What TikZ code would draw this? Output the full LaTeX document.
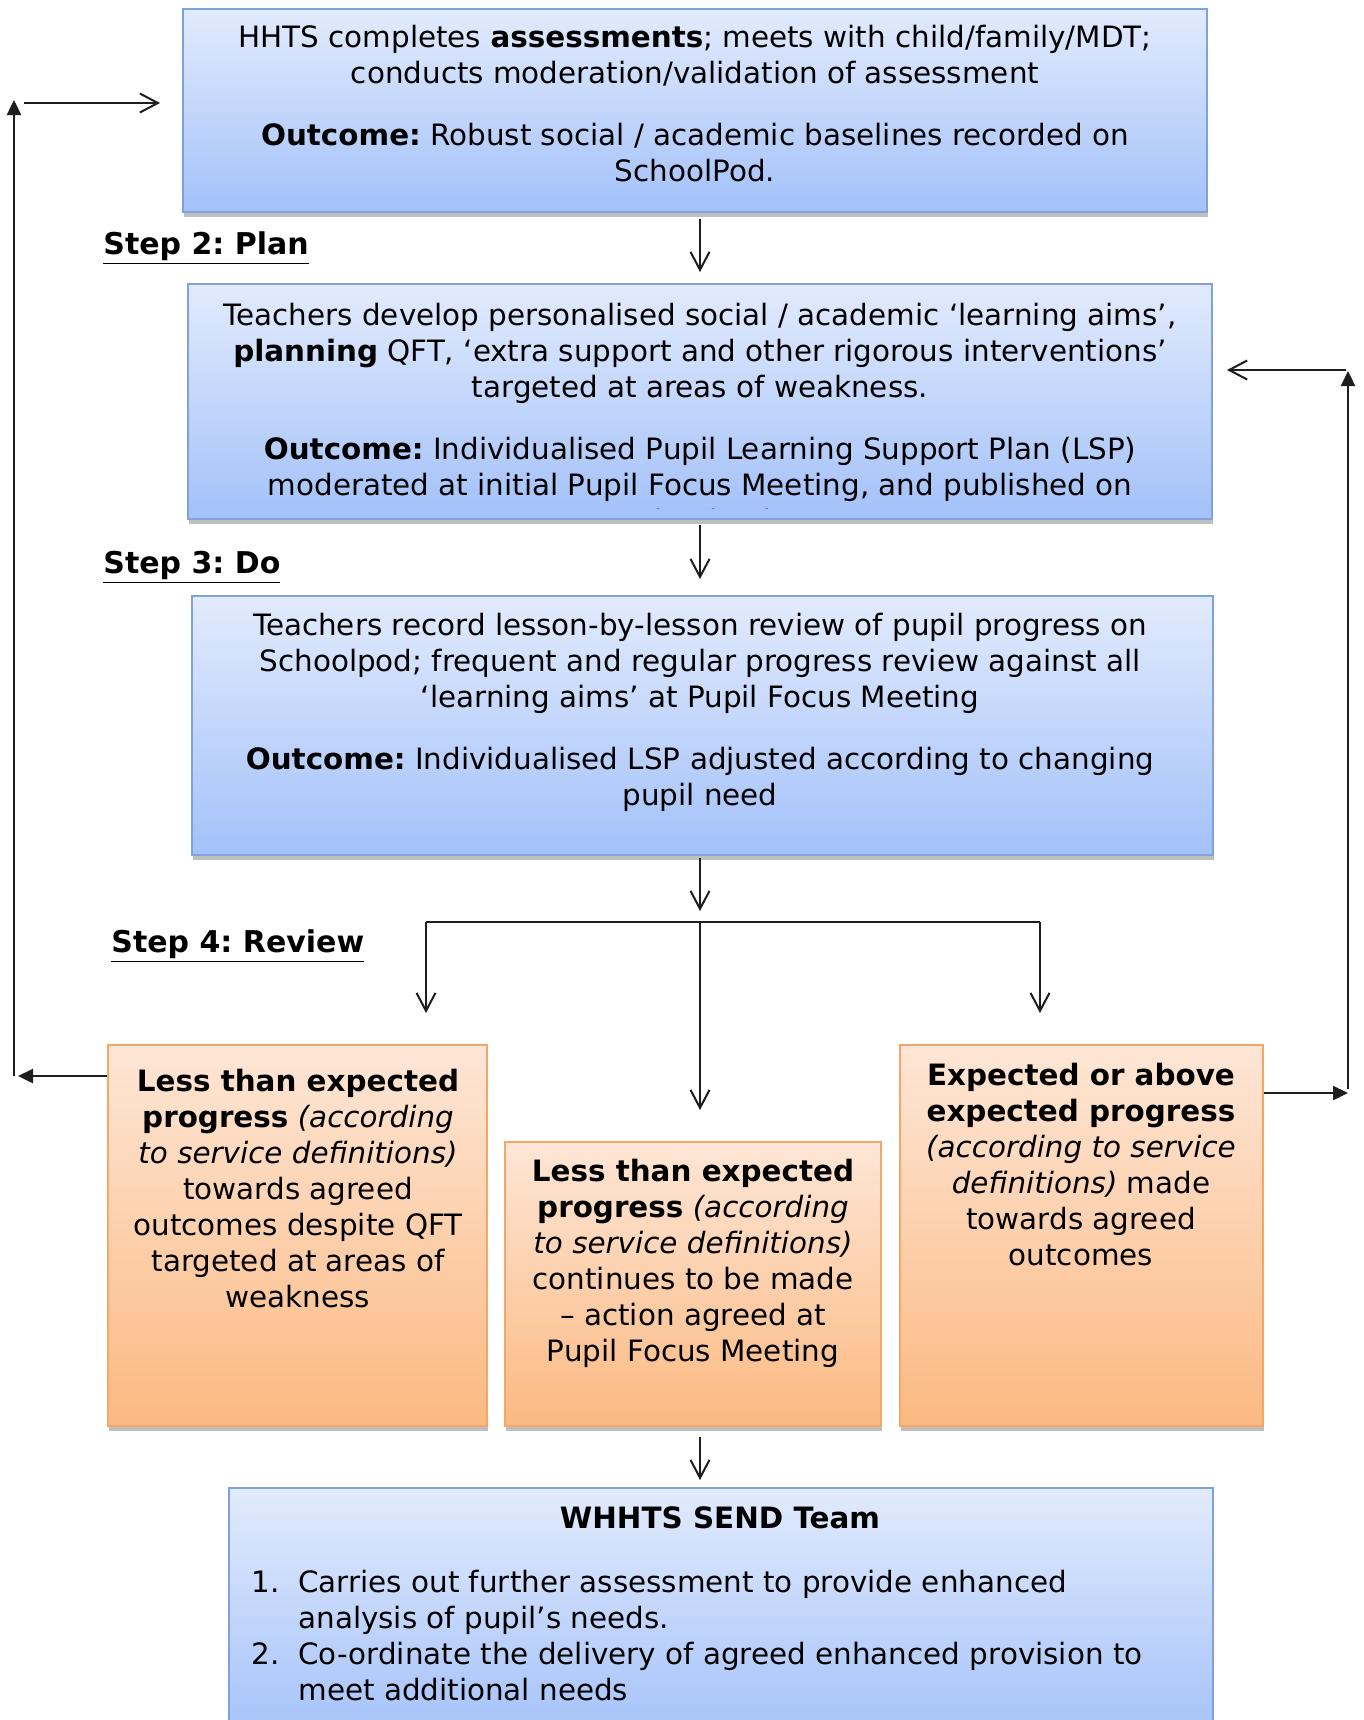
\documentclass[tikz,border=0pt]{standalone}
\usepackage{fontspec}
\setmainfont{DejaVu Sans}
\usetikzlibrary{arrows.meta,shadows,calc}
\definecolor{bluetop}{HTML}{E2EBFD}
\definecolor{bluebot}{HTML}{A3C1F9}
\definecolor{blueline}{HTML}{7FA2DA}
\definecolor{ortop}{HTML}{FEE6D6}
\definecolor{orbot}{HTML}{FBB981}
\definecolor{orline}{HTML}{F5A669}
\definecolor{arrline}{HTML}{1E1E1E}
\frenchspacing
\begin{document}
\begin{tikzpicture}[x=0.5pt,y=-0.5pt,
  bluebox/.style={rectangle, draw=blueline, line width=1pt, top color=bluetop, bottom color=bluebot, inner sep=0pt,
    drop shadow={shadow xshift=0.5pt, shadow yshift=-2.5pt, opacity=0.25, fill=black}},
  orbox/.style={rectangle, draw=orline, line width=1pt, top color=ortop, bottom color=orbot, inner sep=0pt,
    drop shadow={shadow xshift=0.5pt, shadow yshift=-2.5pt, opacity=0.25, fill=black}},
  txt/.style={align=center, inner sep=0pt, font=\fontsize{14.7pt}{18pt}\selectfont, text=black},
  steplbl/.style={anchor=west, inner sep=0pt, font=\fontsize{15pt}{18pt}\selectfont\bfseries},
  conn/.style={draw=arrline, line width=1pt},
  varr/.style={conn, -{Straight Barb[length=9pt,width=9.5pt,line width=1pt]}},
  tarr/.style={conn, line width=1.2pt, -{Triangle[length=7.5pt,width=7pt]}}
]
\useasboundingbox (0,0) rectangle (1364,1720);
\fill[white] (0,0) rectangle (1364,1720);

% boxes
\node[bluebox, minimum width=512pt, minimum height=101.5pt] (b1) at (695,110.5) {};
\node[bluebox, minimum width=512pt, minimum height=117.5pt] (b2) at (700,401.5) {};
\node[bluebox, minimum width=510.5pt, minimum height=129.5pt] (b3) at (702.5,725.5) {};
\node[orbox, minimum width=189.5pt, minimum height=190.5pt] (lb) at (297.5,1235.5) {};
\node[orbox, minimum width=188pt, minimum height=142pt] (mb) at (693,1284) {};
\node[orbox, minimum width=181.5pt, minimum height=190.5pt] (rb) at (1081.5,1235.5) {};
\node[bluebox, minimum width=492pt, minimum height=126pt] (sb) at (721,1614) {};

% texts
\node[txt] (t1) at (695,103.5) {HHTS completes \textbf{assessments}; meets with child/family/MDT;\\
conducts moderation/validation of assessment\\[13pt]
\textbf{Outcome:} Robust social / academic baselines recorded on\\
SchoolPod.};

\begin{scope}
\clip ([xshift=0.5pt,yshift=6pt]b2.south west) rectangle ([xshift=-0.5pt,yshift=-0.5pt]b2.north east);
\node[txt] (t2) at (700,418) {Teachers develop personalised social / academic ‘learning aims’,\\
\textbf{planning} QFT, ‘extra support and other rigorous interventions’\\
targeted at areas of weakness.\\[13pt]
\textbf{Outcome:} Individualised Pupil Learning Support Plan (LSP)\\
moderated at initial Pupil Focus Meeting, and published on\\
SchoolPod.};
\end{scope}

\node[txt] (t3) at (700,712.5) {Teachers record lesson-by-lesson review of pupil progress on\\
Schoolpod; frequent and regular progress review against all\\
‘learning aims’ at Pupil Focus Meeting\\[13pt]
\textbf{Outcome:} Individualised LSP adjusted according to changing\\
pupil need};

\node[txt] (tl) at (298,1188.5) {\textbf{Less than expected}\\
\textbf{progress} \textit{(according}\\
\textit{to service definitions)}\\
towards agreed\\
outcomes despite QFT\\
targeted at areas of\\
weakness};

\node[txt] (tm) at (693,1263) {\textbf{Less than expected}\\
\textbf{progress} \textit{(according}\\
\textit{to service definitions)}\\
continues to be made\\
– action agreed at\\
Pupil Focus Meeting};

\node[txt] (tr) at (1081,1164.5) {\textbf{Expected or above}\\
\textbf{expected progress}\\
\textit{(according to service}\\
\textit{definitions)} made\\
towards agreed\\
outcomes};

\node[txt] (ts) at (720,1518) {\textbf{WHHTS SEND Team}};
\node[txt, align=left, anchor=west] (tlist) at (251,1635.5) {\makebox[23.5pt][l]{1.}Carries out further assessment to provide enhanced\\
\hspace*{23.5pt}analysis of pupil’s needs.\\
\makebox[23.5pt][l]{2.}Co-ordinate the delivery of agreed enhanced provision to\\
\hspace*{23.5pt}meet additional needs};

% step labels
\node[steplbl] (s2) at (103,248) {\underline{Step 2: Plan}};
\node[steplbl] (s3) at (103,567) {\underline{Step 3: Do}};
\node[steplbl] (s4) at (111,946) {\underline{Step 4: Review}};

% main flow
\draw[varr, shorten <=3pt, shorten >=5.5pt] (b1.south -| b2.north) -- (b2.north);
\draw[varr, shorten <=2.5pt, shorten >=8pt] (b2.south) -- (b2.south |- b3.north);
\coordinate (j) at (700,922);
\coordinate (jl) at (426,922);
\coordinate (jr) at (1040,922);
\draw[varr, shorten <=1pt, shorten >=5.5pt] (b3.south -| j) -- (j);
\draw[conn] (jl) -- (jr);
\draw[varr, shorten >=15.5pt] (jl) -- (jl |- lb.north);
\draw[varr, shorten >=15.5pt] (jr) -- (jr |- rb.north);
\draw[varr, shorten >=15.5pt] (j) -- (j |- mb.north);
\draw[varr, shorten <=5pt, shorten >=3.5pt] (mb.south -| j) -- (j |- sb.north);

% left feedback
\coordinate (lc) at (14,1076);
\coordinate (lt) at (14,100);
\coordinate (la) at (24,103);
\draw[tarr, shorten >=2pt] (lb.west |- lc) -- (lc);
\draw[tarr] (lc) -- (lt);
\draw[varr, line width=1.2pt, shorten >=11pt] (la) -- (la -| b1.west);

% right feedback
\coordinate (rc) at (1348,1093);
\coordinate (rt) at (1348,371);
\coordinate (ra) at (1346,370);
\draw[tarr] (rb.east |- rc) -- (rc);
\draw[tarr] ([yshift=2pt]rc) -- (rt);
\draw[varr, line width=1.2pt, shorten >=7pt] (ra) -- (ra -| b2.east);
\end{tikzpicture}
\end{document}
